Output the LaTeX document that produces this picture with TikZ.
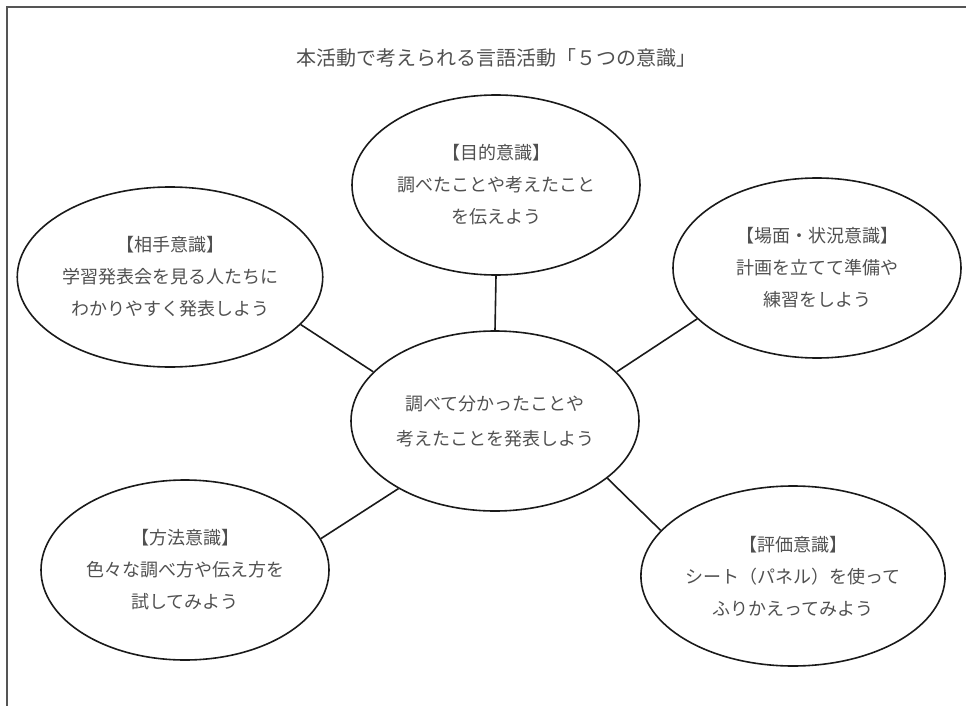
\documentclass[tikz,border=0pt]{standalone}
\usepackage{fontspec}
\newfontfamily\jpfont{Noto Sans CJK JP}
\definecolor{txtgray}{HTML}{505050}
\definecolor{framegray}{HTML}{555555}
\definecolor{linecol}{HTML}{1A1A1A}
\begin{document}
\begin{tikzpicture}[x=1pt,y=1pt,
  bubble/.style={ellipse, draw=linecol, line width=1.6pt, minimum width=288pt, minimum height=180pt,
    inner sep=0pt, align=center, text=txtgray, font=\jpfont\fontsize{18}{32}\selectfont},
  link/.style={draw=linecol, line width=1.6pt},
  titletext/.style={text=txtgray, font=\jpfont\fontsize{20}{24}\selectfont, inner sep=0pt}]
\usetikzlibrary{shapes.geometric}
\useasboundingbox (0,0) rectangle (966,-706);
\draw[framegray, line width=1.6pt] (7,-706) -- (7,-7) -- (966,-7);
\node[titletext] (title) at (496,-58) {本活動で考えられる言語活動「５つの意識」};
\node[bubble] (goal) at (496,-185) {【目的意識】\\調べたことや考えたこと\\を伝えよう};
\node[bubble] (partner) at (170,-277) {【相手意識】\\学習発表会を見る人たちに\\わかりやすく発表しよう};
\node[bubble] (scene) at (817,-268) {【場面・状況意識】\\計画を立てて準備や\\練習をしよう};
\node[bubble, font=\jpfont\fontsize{18}{35}\selectfont] (main) at (495,-421) {調べて分かったことや\\考えたことを発表しよう};
\node[bubble] (method) at (185,-570) {【方法意識】\\色々な調べ方や伝え方を\\試してみよう};
\node[bubble] (eval) at (793,-576) {【評価意識】\\シート（パネル）を使って\\ふりかえってみよう};
\draw[link] (goal.south) -- (main.north);
\draw[link] (partner.-20) -- (main.158);
\draw[link] (scene.203) -- (main.22);
\draw[link] (method.13) -- (main.215);
\draw[link] (eval.161) -- (main.-27);
\end{tikzpicture}
\end{document}
